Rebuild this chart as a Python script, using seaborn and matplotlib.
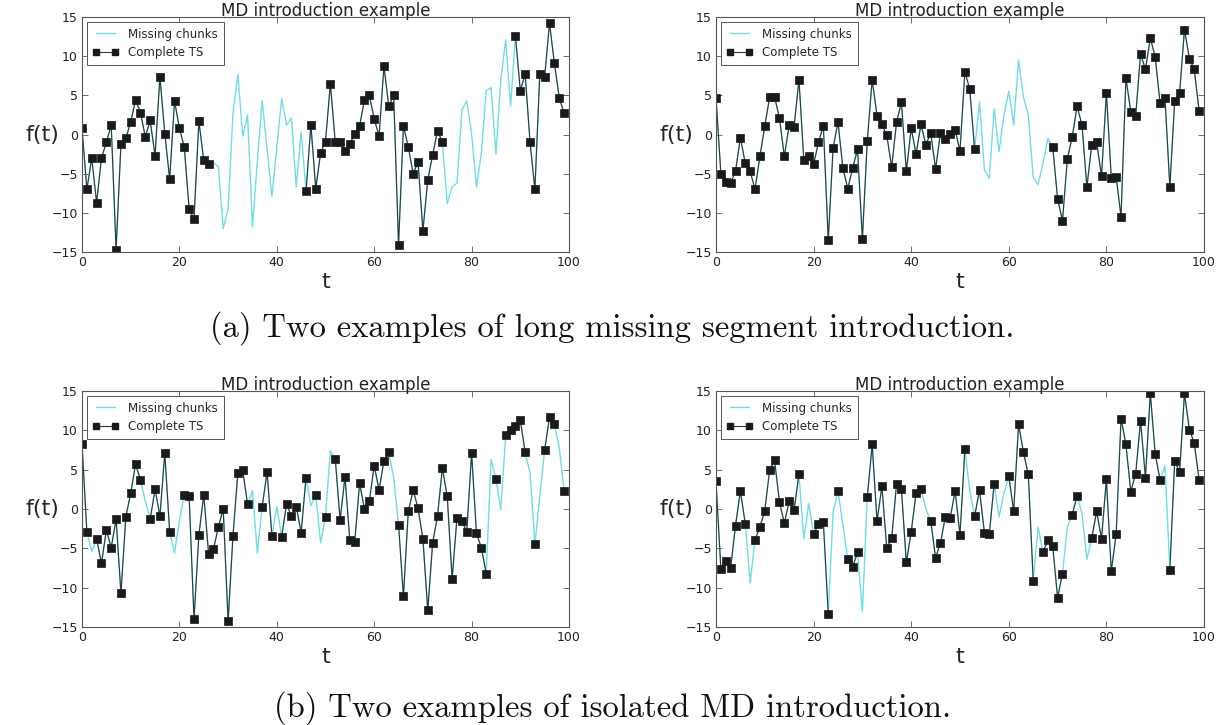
import numpy as np
import pandas as pd
import matplotlib
matplotlib.use("Agg")
import matplotlib.pyplot as plt
import seaborn as sns
from matplotlib.lines import Line2D

# ---------------- data ----------------
t_values = list(range(100))

long_a_values = [0.8, -7.0, -3.0, -8.7, -3.0, -1.0, 1.2, -14.7, -1.2, -0.5,
                 1.6, 4.4, 2.8, -0.3, 1.8, -2.7, 7.4, 0.1, -5.7, 4.3,
                 0.8, -1.6, -9.5, -10.8, 1.7, -3.3, -3.8, -3.6, -4.1, -12.0,
                 -9.5, 2.7, 7.7, -0.2, 2.5, -11.8, -3.5, 4.3, -1.8, -7.9,
                 -1.6, 4.6, 1.2, 2.1, -6.7, 0.3, -7.2, 1.2, -6.9, -2.3,
                 -0.9, 6.5, -1.0, -1.0, -2.1, -1.2, 0.1, 1.1, 4.4, 5.0,
                 2.0, -0.2, 8.7, 3.6, 5.0, -14.1, 1.1, -1.6, -5.0, -3.5,
                 -12.3, -5.8, -2.6, 0.5, -1.0, -8.8, -6.7, -6.2, 3.1, 4.3,
                 0.1, -6.7, -2.4, 5.6, 6.0, -2.5, 7.0, 12.1, 3.6, 12.6,
                 5.6, 7.7, -1.0, -7.0, 7.7, 7.4, 14.2, 9.1, 4.7, 2.7]
long_a_missing = list(range(27, 46)) + list(range(75, 89))

long_b_values = [4.7, -5.0, -6.0, -6.2, -4.7, -0.4, -3.7, -4.7, -7.0, -2.8,
                 1.1, 4.8, 4.8, 2.1, -2.8, 1.2, 1.0, 7.0, -3.3, -2.8,
                 -3.8, -1.0, 1.1, -13.5, -1.7, 1.6, -4.3, -6.9, -4.3, -1.9,
                 -13.3, -0.8, 7.0, 2.4, 1.3, -0.1, -4.2, 1.6, 4.1, -4.7,
                 0.8, -2.5, 1.3, -1.3, 0.2, -4.4, 0.2, -0.6, 0.1, 0.6,
                 -2.1, 8.0, 5.8, -1.9, 4.2, -4.5, -5.6, 3.3, -2.2, 2.5,
                 5.5, 1.2, 9.5, 4.8, 2.5, -5.5, -6.4, -3.7, -0.5, -1.6,
                 -8.2, -11.0, -3.1, -0.3, 3.6, 1.2, -6.7, -1.3, -1.0, -5.3,
                 5.3, -5.5, -5.4, -10.5, 7.2, 2.9, 2.4, 10.3, 8.3, 12.3,
                 9.9, 4.0, 4.7, -6.7, 4.3, 5.3, 13.4, 9.7, 8.3, 3.0]
long_b_missing = list(range(54, 69))

iso_a_values = [8.3, -2.9, -5.4, -3.8, -6.9, -2.7, -4.9, -1.3, -10.7, -1.0,
                2.0, 5.7, 3.7, 1.0, -1.3, 2.5, -0.9, 7.1, -2.9, -5.6,
                -1.5, 1.8, 1.6, -14.0, -3.3, 1.8, -5.7, -5.1, -2.3, 0.0,
                -14.3, -3.4, 4.6, 4.9, 0.6, 2.3, -5.6, 0.3, 4.7, -3.4,
                0.3, -3.5, 0.6, -0.9, 0.3, -3.0, 4.0, 0.4, 1.8, -4.3,
                -1.0, 7.4, 6.4, -1.4, 4.1, -4.0, -4.2, 3.3, 0.0, 1.0,
                5.5, 2.4, 6.1, 7.2, 4.0, -2.0, -11.1, -0.3, 2.4, 0.1,
                -3.8, -12.9, -4.3, -0.9, 5.2, 1.6, -8.9, -1.1, -1.5, -2.9,
                7.1, -3.1, -4.9, -8.2, 6.3, 3.8, -0.1, 9.4, 10.0, 10.5,
                11.3, 7.2, 4.6, -4.5, 1.6, 7.5, 11.7, 10.8, 7.8, 2.3]
iso_a_missing = [2, 13, 19, 20, 35, 36, 40, 47, 49, 51, 64, 84, 86, 92, 94, 98]

iso_b_values = [3.5, -7.6, -6.6, -7.5, -2.1, 2.3, -1.9, -9.4, -3.9, -2.3,
                -0.2, 5.0, 6.2, 0.9, -1.8, 1.0, -0.1, 4.4, -3.8, 0.7,
                -3.2, -1.9, -1.7, -13.3, -0.4, 2.3, -2.0, -6.4, -7.4, -5.5,
                -13.0, 1.5, 8.2, -1.5, 2.9, -5.0, -3.7, 3.2, 2.5, -6.8,
                -2.9, 2.0, 2.6, 0.0, -1.5, -6.2, -4.3, -1.0, -1.1, 2.3,
                -3.3, 7.6, 2.4, -0.9, 2.4, -3.0, -3.2, 3.2, -1.0, 2.0,
                4.2, -0.3, 10.8, 7.2, 4.4, -9.1, -2.3, -5.5, -4.0, -4.7,
                -11.3, -8.2, -2.3, -0.7, 1.7, -0.6, -6.4, -3.7, -0.3, -3.8,
                3.8, -7.9, -3.2, 11.5, 8.2, 2.2, 4.5, 11.2, 4.0, 14.7,
                7.0, 3.7, 5.5, -7.7, 6.1, 4.7, 14.7, 10.1, 8.4, 3.7]
iso_b_missing = [7, 18, 19, 24, 26, 30, 43, 52, 58, 59, 66, 72, 75, 76, 92]

title_text = "MD introduction example"
legend_labels = ["Missing chunks", "Complete TS"]
caption_a = "(a) Two examples of long missing segment introduction."
caption_b = "(b) Two examples of isolated MD introduction."
x_ticks = [0, 20, 40, 60, 80, 100]
y_ticks = [-15, -10, -5, 0, 5, 10, 15]

# ---------------- style ----------------
sns.set_theme(style="white")
plt.rcParams["font.family"] = ["DejaVu Sans"]

CYAN = "#6fdde6"
DARK = "#2b3a3a"
SPINE = "#555555"

fig = plt.figure(figsize=(12.25, 7.25), dpi=100)
W, H = 1225.0, 725.0


def make_ax(left, top, right, bottom):
    return fig.add_axes([left / W, 1 - bottom / H, (right - left) / W, (bottom - top) / H])


def draw(ax, values, missing):
    y = np.array(values, dtype=float)
    complete = y.copy()
    complete[missing] = np.nan
    present = ~np.isnan(complete)
    seg = np.cumsum(~present)
    df = pd.DataFrame({"t": t_values, "full": y, "complete": complete, "seg": seg})
    sns.lineplot(data=df, x="t", y="full", color=CYAN, linewidth=1.0, ax=ax, legend=False)
    sns.lineplot(data=df[present], x="t", y="complete", units="seg", estimator=None,
                 color=DARK, linewidth=0.8, marker="s", markersize=5.5,
                 markeredgecolor="k", markerfacecolor="k", markeredgewidth=0.5,
                 ax=ax, legend=False)
    ax.set_xlim(0, 100)
    ax.set_ylim(-15, 15)
    ax.set_xticks(x_ticks)
    ax.set_yticks(y_ticks)
    ax.tick_params(direction="in", top=True, right=True, bottom=True, left=True,
                   length=4, width=0.6, color=SPINE, labelsize=9, pad=3,
                   labelcolor="#222222")
    for s in ax.spines.values():
        s.set_color(SPINE)
        s.set_linewidth(0.8)
    ax.set_title(title_text, fontsize=12, pad=1, color="#222222")
    ax.set_xlabel("t", fontsize=16, labelpad=2)
    ax.set_ylabel("f(t)", fontsize=16, labelpad=6)
    ax.yaxis.label.set_rotation(0)
    ax.yaxis.label.set_va("center")
    ax.yaxis.label.set_ha("center")
    ax.yaxis.set_label_coords(-0.082, 0.5)
    handles = [Line2D([], [], color=CYAN, linewidth=1.0),
               Line2D([], [], color=DARK, linewidth=0.8, marker="s", markersize=4,
                      markerfacecolor="k", markeredgecolor="k")]
    leg = ax.legend(handles, legend_labels, loc="upper left", fontsize=8.5, numpoints=2,
                    frameon=True, fancybox=False, framealpha=1, edgecolor=SPINE,
                    borderaxespad=0.4, handlelength=2.2, borderpad=0.5, labelspacing=0.45)
    leg.get_frame().set_linewidth(0.7)


ax1 = make_ax(82, 17, 569, 252)
ax2 = make_ax(716, 17, 1204, 252)
ax3 = make_ax(82, 391, 569, 627)
ax4 = make_ax(716, 391, 1204, 627)

draw(ax1, long_a_values, long_a_missing)
draw(ax2, long_b_values, long_b_missing)
draw(ax3, iso_a_values, iso_a_missing)
draw(ax4, iso_b_values, iso_b_missing)

fig.text(0.5, 1 - 328 / H, caption_a, ha="center", va="center", fontsize=23.5,
         family="cmr10", color="#111111")
fig.text(0.5, 1 - 708 / H, caption_b, ha="center", va="center", fontsize=23.5,
         family="cmr10", color="#111111")

fig.savefig("out.png", dpi=100)
